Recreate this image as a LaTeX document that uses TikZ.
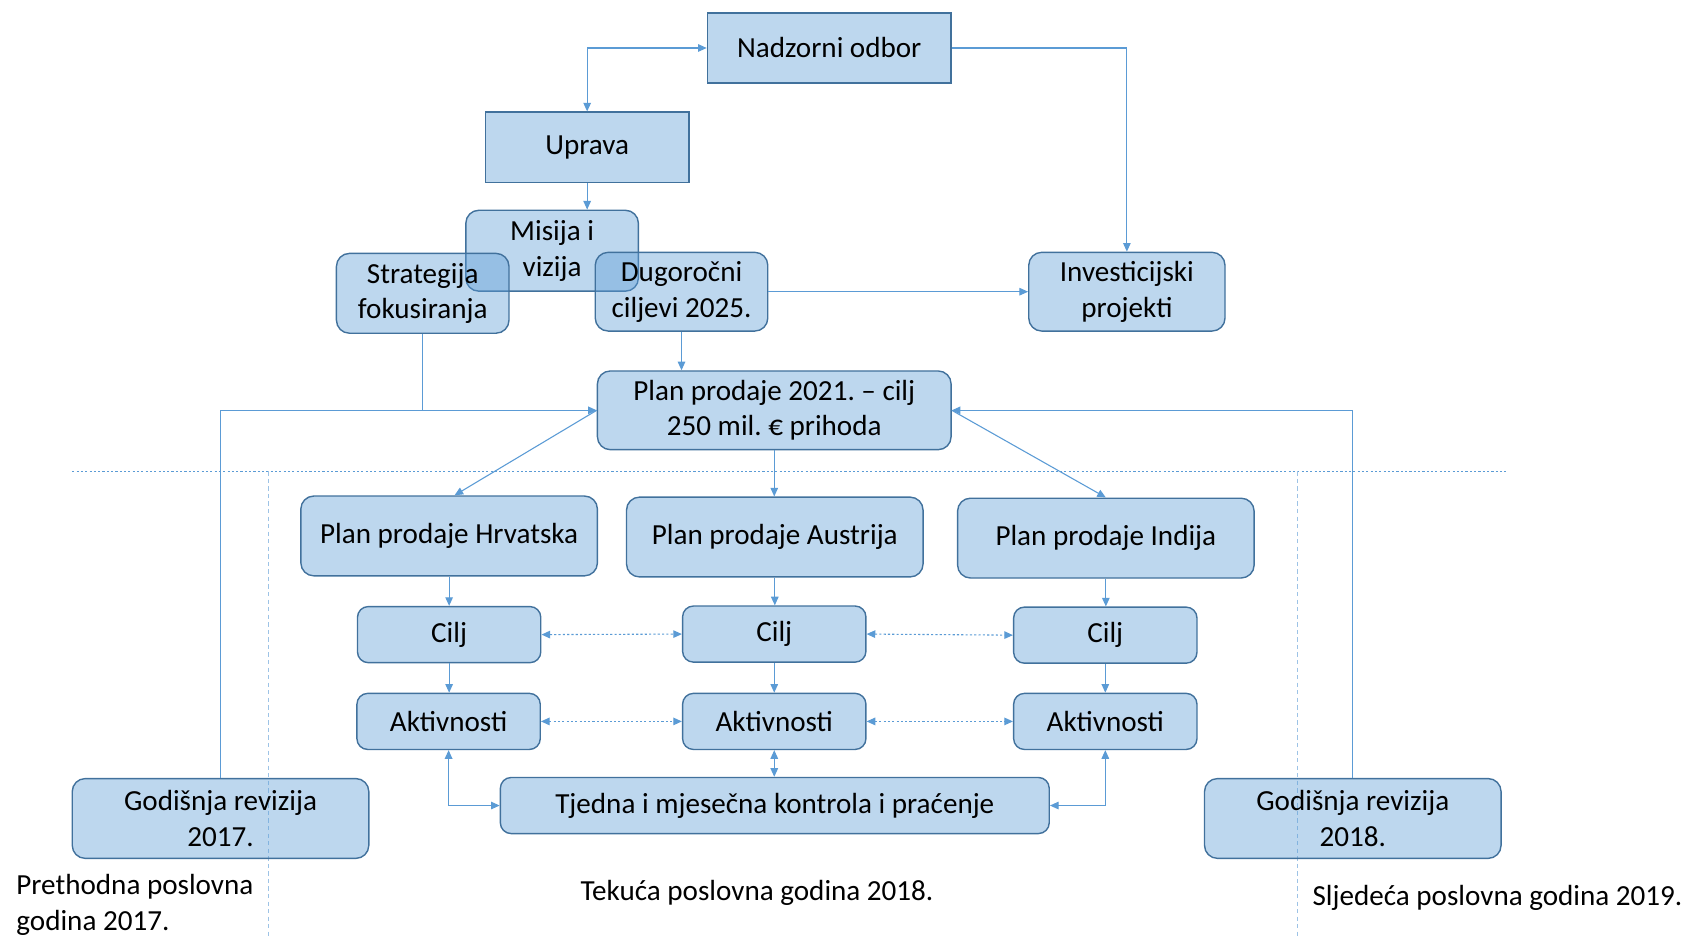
\documentclass[tikz,border=0pt]{standalone}
\usepackage{fontspec}
\setmainfont{Carlito}
\usetikzlibrary{arrows.meta}
\definecolor{boxfill}{HTML}{5B9BD5}
\definecolor{boxline}{HTML}{41719C}
\definecolor{linec}{HTML}{5B9BD5}
\definecolor{sepc}{HTML}{9DC3E6}
\begin{document}
\frenchspacing
\begin{tikzpicture}[x=1pt,y=-1pt,
  >={Triangle[length=8pt,width=7pt]},
  txt/.style={font=\fontsize{27}{33}\selectfont\frenchspacing, inner sep=0pt, align=center},
  sbox/.style={txt, draw=boxline, line width=1.3pt, fill=boxfill, fill opacity=0.4, text opacity=1, draw opacity=1},
  rbox/.style={sbox, rounded corners=12pt},
  conn/.style={draw=linec, line width=1pt},
  dots/.style={draw=linec, line width=1pt, dash pattern=on 2pt off 2pt},
  sep/.style={draw=sepc, line width=1pt, dash pattern=on 4pt off 3pt}]
\useasboundingbox (0,0) rectangle (1570,870);
% separators
\draw[dots] (67,437) -- (1398,437);
\draw[sep] (249,437) -- (249,870);
\draw[sep] (1203,437) -- (1203,870);
% nodes
\node[sbox, minimum width=226, minimum height=65] (nad) at (769,44.5) {Nadzorni odbor};
\node[sbox, minimum width=189, minimum height=65] (upr) at (544.5,136.5) {Uprava};
\node[rbox, minimum width=160, minimum height=75] (mis) at (512,232.5) {Misija i\\vizija};
\node[rbox, minimum width=160, minimum height=74] (str) at (392,272) {Strategija\\fokusiranja};
\node[rbox, minimum width=160, minimum height=73] (dug) at (632,270.5) {Dugoročni\\ciljevi 2025.};
\node[rbox, minimum width=182, minimum height=73] (inv) at (1045,270.5) {Investicijski\\projekti};
\node[rbox, minimum width=328, minimum height=73] (plan) at (718,380.5) {Plan prodaje 2021. – cilj\\250 mil. € prihoda};
\node[rbox, minimum width=275, minimum height=74] (hr) at (416.5,497) {Plan prodaje Hrvatska};
\node[rbox, minimum width=275, minimum height=74] (au) at (718.5,498) {Plan prodaje Austrija};
\node[rbox, minimum width=275, minimum height=74] (in) at (1025.5,499) {Plan prodaje Indija};
\node[rbox, rounded corners=10pt, minimum width=170, minimum height=52] (c1) at (416.5,588.5) {Cilj};
\node[rbox, rounded corners=10pt, minimum width=170, minimum height=52] (c2) at (718,588) {Cilj};
\node[rbox, rounded corners=10pt, minimum width=170, minimum height=52] (c3) at (1025,589) {Cilj};
\node[rbox, rounded corners=10pt, minimum width=170, minimum height=52] (a1) at (416,669) {Aktivnosti};
\node[rbox, rounded corners=10pt, minimum width=170, minimum height=52] (a2) at (718,669) {Aktivnosti};
\node[rbox, rounded corners=10pt, minimum width=170, minimum height=52] (a3) at (1025,669) {Aktivnosti};
\node[rbox, rounded corners=10pt, minimum width=509, minimum height=52] (tj) at (718.5,747) {Tjedna i mjesečna kontrola i praćenje};
\node[rbox, minimum width=275, minimum height=74] (g17) at (204.5,759) {Godišnja revizija\\2017.};
\node[rbox, minimum width=275, minimum height=74] (g18) at (1254.5,759) {Godišnja revizija\\2018.};
% free texts
\node[txt, align=left, anchor=north west] (t17) at (15,811) {Prethodna poslovna\\godina 2017.};
\node[txt] (t18) at (702,828) {Tekuća poslovna godina 2018.};
\node[txt, anchor=west] (t19) at (1217,833) {Sljedeća poslovna godina 2019.};
% connectors
\draw[conn,<->] (nad.west) -| (upr.north);
\draw[conn,->] (nad.east) -| (inv.north);
\draw[conn,->] (upr.south) -- (upr.south |- mis.north);
\draw[conn,->] (dug.east) -- (inv.west);
\draw[conn,->] (dug.south) -- (dug.south |- plan.north);
\draw[conn] (str.south) -- (str.south |- plan.west);
\draw[conn,->] (g17.north) |- (plan.west);
\draw[conn,->] (g18.north) |- (plan.east);
\draw[conn,->] (plan.west) -- ([xshift=5pt]hr.north);
\draw[conn,->] (plan.east) -- (in.north);
\draw[conn,->] (plan.south) -- (plan.south |- au.north);
\draw[conn,->] (hr.south) -- (c1.north);
\draw[conn,->] (c1.south) -- (c1.south |- a1.north);
\draw[conn,->] (au.south) -- (au.south |- c2.north);
\draw[conn,->] (c2.south) -- (a2.north);
\draw[conn,->] (in.south) -- (in.south |- c3.north);
\draw[conn,->] (c3.south) -- (a3.north);
\draw[dots,<->] (c1.east) -- (c2.west);
\draw[dots,<->] (c2.east) -- (c3.west);
\draw[dots,<->] (a1.east) -- (a2.west);
\draw[dots,<->] (a2.east) -- (a3.west);
\draw[conn,<->] (a2.south) -- (a2.south |- tj.north);
\draw[conn,<->] (a1.south) |- (tj.west);
\draw[conn,<->] (a3.south) |- (tj.east);
\end{tikzpicture}
\end{document}
